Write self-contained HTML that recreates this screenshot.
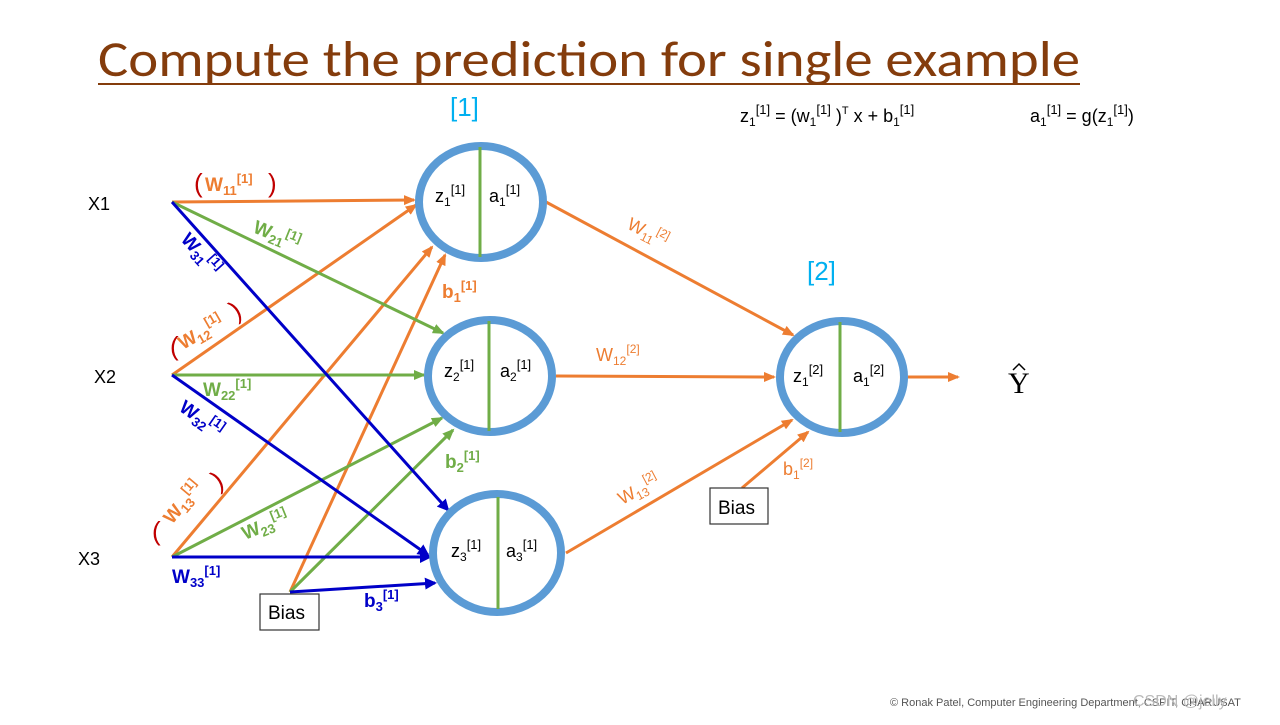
<!DOCTYPE html>
<html><head><meta charset="utf-8"><style>
body{margin:0;background:#fff;width:1280px;height:720px;overflow:hidden;font-family:"Liberation Sans",sans-serif}
</style></head><body>
<svg width="1280" height="720" viewBox="0 0 1280 720" xmlns="http://www.w3.org/2000/svg" font-family="Liberation Sans, sans-serif">
<defs>
<marker id="mo" markerWidth="12" markerHeight="10" refX="10" refY="5" orient="auto" markerUnits="userSpaceOnUse"><path d="M0,0L12,5L0,10z" fill="#ed7d31"/></marker>
<marker id="mg" markerWidth="12" markerHeight="10" refX="10" refY="5" orient="auto" markerUnits="userSpaceOnUse"><path d="M0,0L12,5L0,10z" fill="#70ad47"/></marker>
<marker id="mb" markerWidth="12" markerHeight="12" refX="10" refY="6" orient="auto" markerUnits="userSpaceOnUse"><path d="M0,0L12,6L0,12z" fill="#0000c8"/></marker>
</defs>
<text x="98" y="76" font-size="50" fill="#843c0c" font-family="Carlito, Calibri, Liberation Sans, sans-serif" textLength="982" lengthAdjust="spacingAndGlyphs">Compute the prediction for single example</text>
<line x1="98" y1="84" x2="1080" y2="84" stroke="#843c0c" stroke-width="2"/>

<g stroke-width="3" fill="none">
<line x1="172" y1="202" x2="414" y2="200" stroke="#ed7d31" marker-end="url(#mo)"/>
<line x1="172" y1="375" x2="416" y2="205" stroke="#ed7d31" marker-end="url(#mo)"/>
<line x1="172" y1="557" x2="432" y2="247" stroke="#ed7d31" marker-end="url(#mo)"/>
<line x1="290" y1="592" x2="445" y2="255" stroke="#ed7d31" marker-end="url(#mo)"/>
<line x1="172" y1="202" x2="443" y2="333" stroke="#70ad47" marker-end="url(#mg)"/>
<line x1="172" y1="375" x2="424" y2="375" stroke="#70ad47" marker-end="url(#mg)"/>
<line x1="172" y1="557" x2="442" y2="418" stroke="#70ad47" marker-end="url(#mg)"/>
<line x1="290" y1="592" x2="453" y2="430" stroke="#70ad47" marker-end="url(#mg)"/>
<line x1="172" y1="202" x2="448" y2="510" stroke="#0000c8" marker-end="url(#mb)"/>
<line x1="172" y1="375" x2="428" y2="555" stroke="#0000c8" marker-end="url(#mb)"/>
<line x1="172" y1="557" x2="430" y2="557" stroke="#0000c8" marker-end="url(#mb)"/>
<line x1="290" y1="592" x2="435" y2="583" stroke="#0000c8" marker-end="url(#mb)"/>
<line x1="546" y1="202" x2="793" y2="335" stroke="#ed7d31" marker-end="url(#mo)"/>
<line x1="556" y1="376" x2="774" y2="377" stroke="#ed7d31" marker-end="url(#mo)"/>
<line x1="566" y1="553" x2="792" y2="420" stroke="#ed7d31" marker-end="url(#mo)"/>
<line x1="742" y1="488" x2="808" y2="432" stroke="#ed7d31" marker-end="url(#mo)"/>
<line x1="908" y1="377" x2="958" y2="377" stroke="#ed7d31" marker-end="url(#mo)"/>
</g>

<g fill="#fff" stroke="#5b9bd5" stroke-width="8">
<ellipse cx="481" cy="202" rx="62" ry="56"/>
<ellipse cx="490" cy="376" rx="62" ry="56"/>
<ellipse cx="497" cy="553" rx="64" ry="59"/>
<ellipse cx="842" cy="377" rx="62" ry="56"/>
</g>
<g stroke="#70ad47" stroke-width="3">
<line x1="480" y1="147" x2="480" y2="257"/>
<line x1="489" y1="321" x2="489" y2="431"/>
<line x1="498" y1="497" x2="498" y2="609"/>
<line x1="840" y1="322" x2="840" y2="432"/>
</g>

<g font-size="18" fill="#000">
<text x="435" y="202">z<tspan font-size="12" dy="4">1</tspan><tspan font-size="13" dy="-12">[1]</tspan></text>
<text x="489" y="202">a<tspan font-size="12" dy="4">1</tspan><tspan font-size="13" dy="-12">[1]</tspan></text>
<text x="444" y="377">z<tspan font-size="12" dy="4">2</tspan><tspan font-size="13" dy="-12">[1]</tspan></text>
<text x="500" y="377">a<tspan font-size="12" dy="4">2</tspan><tspan font-size="13" dy="-12">[1]</tspan></text>
<text x="451" y="557">z<tspan font-size="12" dy="4">3</tspan><tspan font-size="13" dy="-12">[1]</tspan></text>
<text x="506" y="557">a<tspan font-size="12" dy="4">3</tspan><tspan font-size="13" dy="-12">[1]</tspan></text>
<text x="793" y="382">z<tspan font-size="12" dy="4">1</tspan><tspan font-size="13" dy="-12">[2]</tspan></text>
<text x="853" y="382">a<tspan font-size="12" dy="4">1</tspan><tspan font-size="13" dy="-12">[2]</tspan></text>
<text x="88" y="210">X1</text>
<text x="94" y="383">X2</text>
<text x="78" y="565">X3</text>
<text x="1008" y="393" font-size="30" font-family="Liberation Serif, serif">Y</text>
<path d="M1013,370 L1019,364 L1025,370" fill="none" stroke="#000" stroke-width="1.5"/>
<text x="740" y="122">z<tspan font-size="12" dy="4">1</tspan><tspan font-size="13" dy="-12">[1]</tspan><tspan dy="8"> = (w</tspan><tspan font-size="12" dy="4">1</tspan><tspan font-size="13" dy="-12">[1]</tspan><tspan dy="8"> )</tspan><tspan font-size="11" dy="-8">T</tspan><tspan dy="8"> x + b</tspan><tspan font-size="12" dy="4">1</tspan><tspan font-size="13" dy="-12">[1]</tspan></text>
<text x="1030" y="122">a<tspan font-size="12" dy="4">1</tspan><tspan font-size="13" dy="-12">[1]</tspan><tspan dy="8"> = g(z</tspan><tspan font-size="12" dy="4">1</tspan><tspan font-size="13" dy="-12">[1]</tspan><tspan dy="8">)</tspan></text>
</g>

<rect x="260" y="594" width="59" height="36" fill="#fff" stroke="#333" stroke-width="1.2"/>
<text x="268" y="619" font-size="19">Bias</text>
<rect x="710" y="488" width="58" height="36" fill="#fff" stroke="#333" stroke-width="1.2"/>
<text x="718" y="514" font-size="19">Bias</text>

<text x="450" y="116" font-size="26" fill="#00b0f0">[1]</text>
<text x="807" y="280" font-size="26" fill="#00b0f0">[2]</text>

<g font-size="19" font-weight="bold">
<text x="205" y="191" fill="#ed7d31">W<tspan font-size="13" dy="4">11</tspan><tspan font-size="13" dy="-12">[1]</tspan></text>
<text x="194" y="192" fill="#c00000" font-weight="normal" font-size="26">(</text>
<text x="268" y="192" fill="#c00000" font-weight="normal" font-size="26">)</text>
<text x="252" y="232" fill="#70ad47" transform="rotate(22 252 232)">W<tspan font-size="13" dy="4">21</tspan><tspan font-size="13" dy="-12">[1]</tspan></text>
<text x="180" y="240" fill="#0000c8" transform="rotate(48 180 240)">W<tspan font-size="13" dy="4">31</tspan><tspan font-size="13" dy="-12">[1]</tspan></text>
<text x="183" y="350" fill="#ed7d31" transform="rotate(-30 183 350)">W<tspan font-size="13" dy="4">12</tspan><tspan font-size="13" dy="-12">[1]</tspan></text>
<text x="170" y="355" fill="#c00000" font-weight="normal" font-size="26">(</text>
<text x="236" y="320" fill="#c00000" font-weight="normal" font-size="26" transform="rotate(-30 236 320)">)</text>
<text x="203" y="396" fill="#70ad47">W<tspan font-size="13" dy="4">22</tspan><tspan font-size="13" dy="-12">[1]</tspan></text>
<text x="178" y="410" fill="#0000c8" transform="rotate(35 178 410)">W<tspan font-size="13" dy="4">32</tspan><tspan font-size="13" dy="-12">[1]</tspan></text>
<text x="172" y="525" fill="#ed7d31" transform="rotate(-50 172 525)">W<tspan font-size="13" dy="4">13</tspan><tspan font-size="13" dy="-12">[1]</tspan></text>
<text x="152" y="540" fill="#c00000" font-weight="normal" font-size="26">(</text>
<text x="218" y="490" fill="#c00000" font-weight="normal" font-size="26" transform="rotate(-30 218 490)">)</text>
<text x="245" y="540" fill="#70ad47" transform="rotate(-22 245 540)">W<tspan font-size="13" dy="4">23</tspan><tspan font-size="13" dy="-12">[1]</tspan></text>
<text x="172" y="583" fill="#0000c8">W<tspan font-size="13" dy="4">33</tspan><tspan font-size="13" dy="-12">[1]</tspan></text>
<text x="442" y="298" fill="#ed7d31">b<tspan font-size="13" dy="4">1</tspan><tspan font-size="13" dy="-12">[1]</tspan></text>
<text x="445" y="468" fill="#70ad47">b<tspan font-size="13" dy="4">2</tspan><tspan font-size="13" dy="-12">[1]</tspan></text>
<text x="364" y="607" fill="#0000c8">b<tspan font-size="13" dy="4">3</tspan><tspan font-size="13" dy="-12">[1]</tspan></text>
</g>
<g font-size="18" fill="#ed7d31">
<text x="626" y="228" transform="rotate(27 626 228)">W<tspan font-size="12" dy="4">11</tspan><tspan font-size="12" dy="-12">[2]</tspan></text>
<text x="596" y="361">W<tspan font-size="12" dy="4">12</tspan><tspan font-size="12" dy="-12">[2]</tspan></text>
<text x="622" y="505" transform="rotate(-28 622 505)">W<tspan font-size="12" dy="4">13</tspan><tspan font-size="12" dy="-12">[2]</tspan></text>
<text x="783" y="475">b<tspan font-size="12" dy="4">1</tspan><tspan font-size="12" dy="-12">[2]</tspan></text>
</g>
<text x="890" y="706" font-size="11" fill="#555">© Ronak Patel, Computer Engineering Department, CSPIT, CHARUSAT</text>
<text x="1133" y="706" font-size="16" fill="#bbb">CSDN @jelly</text>
</svg>
</body></html>
